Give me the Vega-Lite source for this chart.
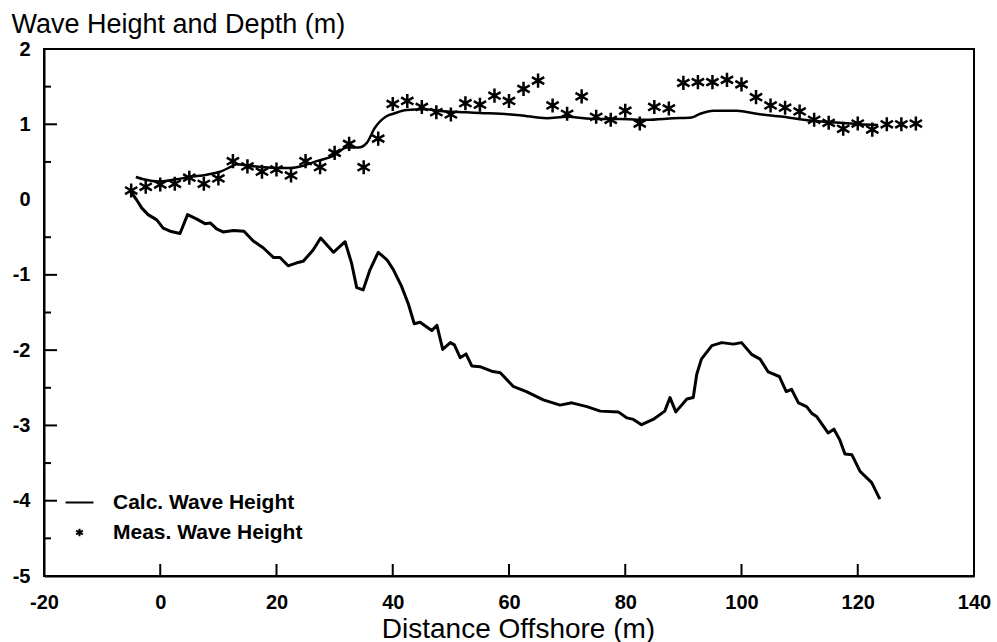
{
  "$schema": "https://vega.github.io/schema/vega-lite/v6.json",
  "width": 930,
  "height": 527,
  "autosize": {"type": "none"},
  "padding": {"left": 44, "top": 49, "right": 23, "bottom": 66},
  "background": "white",
  "config": {
    "font": "Liberation Sans",
    "view": {"stroke": "black", "strokeWidth": 2},
    "axis": {
      "domainColor": "black",
      "domainWidth": 2,
      "ticks": false,
      "labelColor": "black",
      "labelFont": "Liberation Sans",
      "labelFontSize": 20,
      "labelFontWeight": "bold",
      "labelFlush": false,
      "titleColor": "black",
      "titleFont": "Liberation Sans",
      "titleFontWeight": "normal",
      "grid": false
    },
    "legend": {
      "labelFont": "Liberation Sans",
      "labelColor": "black"
    }
  },
  "datasets": {
    "depth": [
      {"x": -4.9, "y": 0.09}, {"x": -4.1, "y": 0}, {"x": -3.2, "y": -0.11}, {"x": -2.1, "y": -0.2},
      {"x": -0.6, "y": -0.27}, {"x": 0.5, "y": -0.38}, {"x": 1.7, "y": -0.42}, {"x": 3.4, "y": -0.45},
      {"x": 4.7, "y": -0.2}, {"x": 6.3, "y": -0.26}, {"x": 7.7, "y": -0.32}, {"x": 8.6, "y": -0.31},
      {"x": 9.7, "y": -0.39}, {"x": 10.8, "y": -0.43}, {"x": 12.6, "y": -0.41}, {"x": 14.4, "y": -0.42},
      {"x": 16.0, "y": -0.55}, {"x": 17.7, "y": -0.64}, {"x": 19.5, "y": -0.77}, {"x": 20.6, "y": -0.77},
      {"x": 22.0, "y": -0.88}, {"x": 23.5, "y": -0.84}, {"x": 24.6, "y": -0.82}, {"x": 26.3, "y": -0.67},
      {"x": 27.6, "y": -0.51}, {"x": 29.8, "y": -0.7}, {"x": 31.8, "y": -0.56}, {"x": 32.9, "y": -0.84},
      {"x": 33.8, "y": -1.17}, {"x": 34.9, "y": -1.2}, {"x": 36.1, "y": -0.93}, {"x": 37.5, "y": -0.7},
      {"x": 39.0, "y": -0.8}, {"x": 40.1, "y": -0.93}, {"x": 41.5, "y": -1.15}, {"x": 42.7, "y": -1.39},
      {"x": 43.7, "y": -1.65}, {"x": 44.7, "y": -1.63}, {"x": 46.7, "y": -1.74}, {"x": 47.6, "y": -1.67},
      {"x": 48.6, "y": -1.99}, {"x": 49.9, "y": -1.9}, {"x": 50.6, "y": -1.93}, {"x": 51.6, "y": -2.1},
      {"x": 52.6, "y": -2.05}, {"x": 53.6, "y": -2.21}, {"x": 55.0, "y": -2.22}, {"x": 57.0, "y": -2.28},
      {"x": 58.5, "y": -2.3}, {"x": 60.7, "y": -2.48}, {"x": 63.0, "y": -2.55}, {"x": 65.9, "y": -2.66},
      {"x": 68.8, "y": -2.73}, {"x": 70.8, "y": -2.7}, {"x": 73.4, "y": -2.75}, {"x": 75.7, "y": -2.81},
      {"x": 78.8, "y": -2.82}, {"x": 80.3, "y": -2.9}, {"x": 81.4, "y": -2.92}, {"x": 82.8, "y": -2.99},
      {"x": 84.8, "y": -2.92}, {"x": 86.8, "y": -2.81}, {"x": 87.7, "y": -2.63}, {"x": 88.7, "y": -2.82},
      {"x": 90.6, "y": -2.65}, {"x": 91.7, "y": -2.63}, {"x": 92.3, "y": -2.32}, {"x": 93.1, "y": -2.12},
      {"x": 94.9, "y": -1.94}, {"x": 96.6, "y": -1.9}, {"x": 98.6, "y": -1.92}, {"x": 100.0, "y": -1.9},
      {"x": 101.8, "y": -2.06}, {"x": 103.2, "y": -2.12}, {"x": 104.6, "y": -2.29}, {"x": 106.5, "y": -2.35},
      {"x": 107.7, "y": -2.55}, {"x": 108.6, "y": -2.52}, {"x": 109.8, "y": -2.7}, {"x": 111.2, "y": -2.75},
      {"x": 112.1, "y": -2.84}, {"x": 112.9, "y": -2.88}, {"x": 114.9, "y": -3.1}, {"x": 115.9, "y": -3.05},
      {"x": 116.9, "y": -3.19}, {"x": 117.8, "y": -3.38}, {"x": 119.0, "y": -3.39}, {"x": 120.4, "y": -3.61},
      {"x": 122.4, "y": -3.76}, {"x": 123.8, "y": -3.98}
    ],
    "calc": [
      {"x": -4.2, "y": 0.3}, {"x": -2.9, "y": 0.27}, {"x": 0, "y": 0.24}, {"x": 2.8, "y": 0.27},
      {"x": 5.1, "y": 0.3}, {"x": 8.0, "y": 0.33}, {"x": 10.3, "y": 0.37}, {"x": 12.3, "y": 0.44},
      {"x": 13.2, "y": 0.47}, {"x": 15.2, "y": 0.45}, {"x": 17.7, "y": 0.43}, {"x": 20.0, "y": 0.42},
      {"x": 22.3, "y": 0.42}, {"x": 24.6, "y": 0.45}, {"x": 26.9, "y": 0.51}, {"x": 29.8, "y": 0.58},
      {"x": 32.1, "y": 0.69}, {"x": 34.1, "y": 0.69}, {"x": 35.5, "y": 0.75}, {"x": 36.9, "y": 0.95},
      {"x": 39.0, "y": 1.11}, {"x": 40.1, "y": 1.14}, {"x": 42.4, "y": 1.19}, {"x": 45.3, "y": 1.2},
      {"x": 49.3, "y": 1.17}, {"x": 52.7, "y": 1.16}, {"x": 55.0, "y": 1.15}, {"x": 58.5, "y": 1.14},
      {"x": 61.9, "y": 1.12}, {"x": 66.5, "y": 1.08}, {"x": 69.9, "y": 1.1}, {"x": 75.1, "y": 1.07},
      {"x": 79.1, "y": 1.07}, {"x": 83.7, "y": 1.06}, {"x": 88.3, "y": 1.08}, {"x": 91.4, "y": 1.09},
      {"x": 92.9, "y": 1.14}, {"x": 95.2, "y": 1.18}, {"x": 99.2, "y": 1.18}, {"x": 102.6, "y": 1.14},
      {"x": 107.2, "y": 1.1}, {"x": 111.8, "y": 1.05}, {"x": 116.9, "y": 1.02}, {"x": 120.4, "y": 1.0},
      {"x": 123.5, "y": 0.99}
    ],
    "meas": [
      {"x": -5, "y": 0.12}, {"x": -2.5, "y": 0.17}, {"x": 0, "y": 0.2}, {"x": 2.5, "y": 0.21},
      {"x": 5, "y": 0.29}, {"x": 7.5, "y": 0.21}, {"x": 10, "y": 0.28}, {"x": 12.5, "y": 0.51},
      {"x": 15, "y": 0.44}, {"x": 17.5, "y": 0.37}, {"x": 20, "y": 0.4}, {"x": 22.5, "y": 0.32},
      {"x": 25, "y": 0.51}, {"x": 27.5, "y": 0.43}, {"x": 30, "y": 0.62}, {"x": 32.5, "y": 0.74},
      {"x": 35, "y": 0.43}, {"x": 37.5, "y": 0.81}, {"x": 40, "y": 1.27}, {"x": 42.5, "y": 1.31},
      {"x": 45, "y": 1.23}, {"x": 47.5, "y": 1.16}, {"x": 50, "y": 1.13}, {"x": 52.5, "y": 1.28},
      {"x": 55, "y": 1.26}, {"x": 57.5, "y": 1.38}, {"x": 60, "y": 1.31}, {"x": 62.5, "y": 1.47},
      {"x": 65, "y": 1.58}, {"x": 67.5, "y": 1.25}, {"x": 70, "y": 1.14}, {"x": 72.5, "y": 1.37},
      {"x": 75, "y": 1.1}, {"x": 77.5, "y": 1.06}, {"x": 80, "y": 1.18}, {"x": 82.5, "y": 1.01},
      {"x": 85, "y": 1.23}, {"x": 87.5, "y": 1.21}, {"x": 90, "y": 1.55}, {"x": 92.5, "y": 1.56},
      {"x": 95, "y": 1.56}, {"x": 97.5, "y": 1.59}, {"x": 100, "y": 1.53}, {"x": 102.5, "y": 1.36},
      {"x": 105, "y": 1.25}, {"x": 107.5, "y": 1.22}, {"x": 110, "y": 1.17}, {"x": 112.5, "y": 1.06},
      {"x": 115, "y": 1.02}, {"x": 117.5, "y": 0.94}, {"x": 120, "y": 1.01}, {"x": 122.5, "y": 0.93},
      {"x": 125, "y": 1.0}, {"x": 127.5, "y": 1.0}, {"x": 130, "y": 1.01}
    ],
    "xticks": [
      {"x": 0}, {"x": 20}, {"x": 40}, {"x": 60}, {"x": 80}, {"x": 100}, {"x": 120}
    ],
    "ymajor": [
      {"y": -4}, {"y": -3}, {"y": -2}, {"y": -1}, {"y": 1}
    ],
    "yminor": [
      {"y": -4.5}, {"y": -3.5}, {"y": -2.5}, {"y": -1.5}, {"y": -0.5}, {"y": 0.5}, {"y": 1.5}
    ]
  },
  "layer": [
    {
      "data": {"name": "depth"},
      "mark": {"type": "line", "color": "black", "strokeWidth": 3, "strokeJoin": "round"},
      "encoding": {
        "x": {
          "field": "x", "type": "quantitative",
          "scale": {"domain": [-20, 140], "nice": false, "zero": false},
          "axis": {
            "orient": "bottom",
            "values": [-20, 0, 20, 40, 60, 80, 100, 120, 140],
            "labelExpr": "'' + datum.value",
            "labelPadding": 16,
            "title": "Distance Offshore (m)",
            "titleFontSize": 28,
            "titleX": 474,
            "titleY": 61,
            "titleAlign": "center",
            "titleBaseline": "alphabetic"
          }
        },
        "y": {
          "field": "y", "type": "quantitative",
          "scale": {"domain": [-5, 2], "nice": false, "zero": false},
          "axis": {
            "orient": "left",
            "values": [-5, -4, -3, -2, -1, 0, 1, 2],
            "labelExpr": "'' + datum.value",
            "labelPadding": 14,
            "title": "Wave Height and Depth (m)",
            "titleFontSize": 27,
            "titleAngle": 0,
            "titleX": -33,
            "titleY": -17,
            "titleAlign": "left",
            "titleBaseline": "alphabetic"
          }
        }
      }
    },
    {
      "mark": {"type": "rule", "color": "black", "strokeWidth": 2},
      "encoding": {"y": {"datum": 0}}
    },
    {
      "data": {"name": "xticks"},
      "mark": {"type": "point", "shape": "M0,0V-1", "size": 576, "filled": false, "color": "black", "strokeWidth": 2, "opacity": 1},
      "encoding": {
        "x": {"field": "x", "type": "quantitative"},
        "y": {"datum": -5}
      }
    },
    {
      "data": {"name": "ymajor"},
      "mark": {"type": "point", "shape": "M0,0H1", "size": 676, "filled": false, "color": "black", "strokeWidth": 2, "opacity": 1},
      "encoding": {
        "x": {"datum": -20},
        "y": {"field": "y", "type": "quantitative"}
      }
    },
    {
      "data": {"name": "yminor"},
      "mark": {"type": "point", "shape": "M0,0H1", "size": 196, "filled": false, "color": "black", "strokeWidth": 2, "opacity": 1},
      "encoding": {
        "x": {"datum": -20},
        "y": {"field": "y", "type": "quantitative"}
      }
    },
    {
      "data": {"name": "calc"},
      "mark": {"type": "line", "color": "black", "strokeWidth": 2.5, "interpolate": "monotone"},
      "encoding": {
        "x": {"field": "x", "type": "quantitative"},
        "y": {"field": "y", "type": "quantitative"}
      }
    },
    {
      "data": {"name": "meas"},
      "mark": {"type": "point", "filled": false, "color": "black", "strokeWidth": 2.5, "size": 200, "opacity": 1},
      "encoding": {
        "x": {"field": "x", "type": "quantitative"},
        "y": {"field": "y", "type": "quantitative"},
        "shape": {
          "datum": "Meas. Wave Height",
          "scale": {
            "domain": ["Calc. Wave Height", "Meas. Wave Height"],
            "range": ["M-3.6,0H3.6", "M0,-1V1M-0.87,-0.5L0.87,0.5M-0.87,0.5L0.87,-0.5"]
          },
          "legend": {
            "title": null,
            "orient": "none",
            "legendX": 25,
            "legendY": 443,
            "labelFontSize": 21,
            "labelFontWeight": "bold",
            "labelLimit": 400,
            "symbolSize": 60,
            "symbolStrokeWidth": 2,
            "symbolStrokeColor": "black",
            "rowPadding": 8,
            "labelOffset": 23
          }
        }
      }
    }
  ]
}
